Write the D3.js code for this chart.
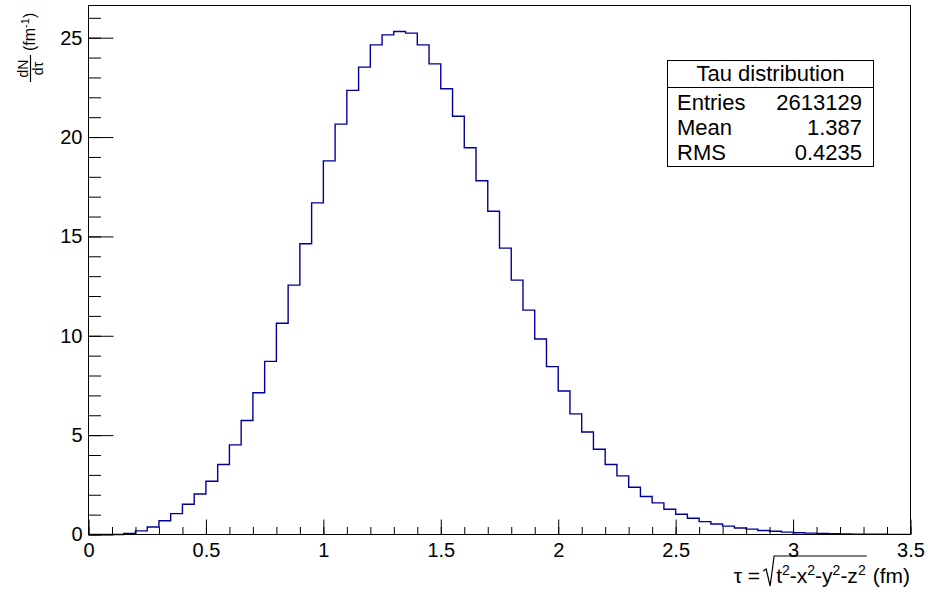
<!DOCTYPE html>
<meta charset="utf-8">
<head>
  <title>Tau distribution</title>
</head>

<style>
  body { margin: 0; background: #fff; }
  text { font-family: "Liberation Sans", Arial, sans-serif; fill: #000; }
</style>

<body>
  <svg width="928" height="592"></svg>

  <script src="https://cdn.jsdelivr.net/npm/d3@7"></script>
  <script>

// histogram: 70 bins of width 0.05 from 0 to 3.5
var binLow = d3.range(0, 70).map(function(i){ return +(i * 0.05).toFixed(2) })
var counts = [
  0, 0, 0, 0.05, 0.18, 0.38, 0.69, 1.05, 1.52, 2.04,
  2.68, 3.52, 4.51, 5.74, 7.13, 8.71, 10.63, 12.55, 14.63, 16.69,
  18.80, 20.65, 22.35, 23.52, 24.64, 25.14, 25.31, 25.23, 24.64, 23.68,
  22.43, 21.05, 19.46, 17.80, 16.27, 14.41, 12.80, 11.29, 9.84, 8.45,
  7.22, 6.07, 5.16, 4.29, 3.52, 2.95, 2.38, 1.91, 1.59, 1.27,
  1.02, 0.82, 0.65, 0.53, 0.42, 0.33, 0.27, 0.20, 0.16, 0.12,
  0.09, 0.07, 0.05, 0.04, 0.03, 0.02, 0.015, 0.01, 0.008, 0.005
]
var binWidth = 0.05

var xMajor = [0, 0.5, 1, 1.5, 2, 2.5, 3, 3.5]
var xMinor = d3.range(0, 36).map(function(i){ return +(i * 0.1).toFixed(1) })
var yMajor = [0, 5, 10, 15, 20, 25]
var yMinor = d3.range(0, 27)

var statsTitle = "Tau distribution"
var statsLabels = ["Entries", "Mean", "RMS"]
var statsValues = ["2613129", "1.387", "0.4235"]

var padL = 88.5, padR = 910.5, padT = 5.5, padB = 534.5

var x = d3.scaleLinear().domain([0, 3.5]).range([padL, padR])
var y = d3.scaleLinear().domain([0, 26.62]).range([padB, padT])

var svg = d3.select('svg')

// frame
svg.append('rect')
    .attr('x', padL).attr('y', padT)
    .attr('width', padR - padL).attr('height', padB - padT)
    .style('fill', 'none').style('stroke', '#000').style('stroke-width', 1)

// histogram as a step line
var d = 'M' + x(0) + ',' + y(0)
binLow.forEach(function(b, i){
    d += 'V' + y(counts[i]) + 'H' + x(b + binWidth)
})
svg.append('path')
    .attr('d', d)
    .style('fill', 'none')
    .style('stroke', '#000099')
    .style('stroke-width', 1.4)

// axes (ticks point inward, like ROOT)
function styleAxis(g, size){
    g.select('.domain').remove()
    g.selectAll('line').style('stroke', '#000').style('stroke-width', 1)
    g.selectAll('text').style('font-size', size + 'px').style('font-family', '"Liberation Sans", Arial, sans-serif')
}

svg.append('g').attr('transform', 'translate(0,' + padB + ')')
    .call(d3.axisBottom(x).tickValues(xMinor).tickSize(-7.5).tickFormat(''))
    .call(styleAxis, 20)
svg.append('g').attr('transform', 'translate(0,' + padB + ')')
    .call(d3.axisBottom(x).tickValues(xMajor).tickSize(-15).tickPadding(8).tickFormat(d3.format('')))
    .call(styleAxis, 20)

svg.append('g').attr('transform', 'translate(' + padL + ',0)')
    .call(d3.axisLeft(y).tickValues(yMinor).tickSize(-12.5).tickFormat(''))
    .call(styleAxis, 20)
svg.append('g').attr('transform', 'translate(' + padL + ',0)')
    .call(d3.axisLeft(y).tickValues(yMajor).tickSize(-25).tickPadding(6).tickFormat(d3.format('d')))
    .call(styleAxis, 20)

// bottom axis line drawn on top of the histogram
svg.append('line')
    .attr('x1', padL).attr('x2', padR).attr('y1', padB).attr('y2', padB)
    .style('stroke', '#000')

// x axis title:  tau = sqrt(t2-x2-y2-z2) (fm), right aligned
var tb = 583, tfs = 21
var unit = svg.append('text').attr('x', 910).attr('y', tb)
    .attr('text-anchor', 'end').style('font-size', tfs + 'px').text('(fm)')
var uw = unit.node().getComputedTextLength()

var rad = svg.append('text').attr('y', tb).style('font-size', tfs + 'px')
var parts = ['t', '-x', '-y', '-z']
parts.forEach(function(p, i){
    rad.append('tspan').attr('dy', i == 0 ? 0 : 8).text(p)
    rad.append('tspan').attr('dy', -8).style('font-size', '14px').text('2')
})
var rw = rad.node().getComputedTextLength()
var radEnd = 910 - uw - 7
var radStart = radEnd - rw
rad.attr('x', radStart)

svg.append('path')
    .attr('d', 'M' + (radStart - 13) + ',' + (tb - 12) +
               'L' + (radStart - 10) + ',' + (tb - 14) +
               'L' + (radStart - 6) + ',' + (tb + 3) +
               'L' + (radStart - 2) + ',' + (tb - 27) +
               'H' + (radEnd + 1))
    .style('fill', 'none').style('stroke', '#000').style('stroke-width', 1.2)

svg.append('text').attr('x', radStart - 16).attr('y', tb)
    .attr('text-anchor', 'end').style('font-size', tfs + 'px').text('\u03c4 =')

// y axis title:  dN/dtau (fm^-1), rotated
var yt = svg.append('g').attr('transform', 'rotate(-90)')
yt.append('text').attr('x', -68.5).attr('y', 28)
    .attr('text-anchor', 'middle').style('font-size', '14px').text('dN')
yt.append('text').attr('x', -68.5).attr('y', 43)
    .attr('text-anchor', 'middle').style('font-size', '14px').text('d\u03c4')
yt.append('line').attr('x1', -82).attr('x2', -55).attr('y1', 30.5).attr('y2', 30.5)
    .style('stroke', '#000').style('stroke-width', 1.2)
var fm = yt.append('text').attr('x', -51).attr('y', 34.5).style('font-size', '16px')
fm.append('tspan').text('(fm')
fm.append('tspan').attr('dy', -6).style('font-size', '11px').text('-1')
fm.append('tspan').attr('dy', 6).text(')')

// stats box
var bx0 = 667.5, bx1 = 873.5, by0 = 60.5, by1 = 166.5
var stats = svg.append('g')
stats.append('rect')
    .attr('x', bx0).attr('y', by0).attr('width', bx1 - bx0).attr('height', by1 - by0)
    .style('fill', '#fff').style('stroke', '#000').style('stroke-width', 1)
stats.append('line').attr('x1', bx0).attr('x2', bx1).attr('y1', 87.5).attr('y2', 87.5)
    .style('stroke', '#000')
stats.append('text').attr('x', (bx0 + bx1) / 2).attr('y', 81)
    .attr('text-anchor', 'middle').style('font-size', '22px').text(statsTitle)
var rowY = [109.5, 134.5, 160]
statsLabels.forEach(function(l, i){
    stats.append('text').attr('x', 677).attr('y', rowY[i]).style('font-size', '22px').text(l)
    stats.append('text').attr('x', 862).attr('y', rowY[i])
        .attr('text-anchor', 'end').style('font-size', '22px').text(statsValues[i])
})

  </script>
</body>
</html>
